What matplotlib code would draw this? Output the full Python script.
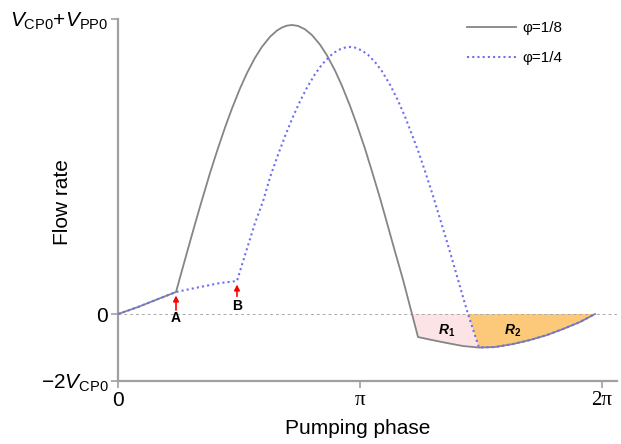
import matplotlib
matplotlib.use("Agg")
import matplotlib.pyplot as plt

plt.rcParams["font.family"] = ["Liberation Sans", "DejaVu Sans"]
plt.rcParams["mathtext.fontset"] = "custom"
plt.rcParams["mathtext.rm"] = "Liberation Sans"
plt.rcParams["mathtext.it"] = "Liberation Sans:italic"
plt.rcParams["mathtext.bf"] = "Liberation Sans:bold"
plt.rcParams["mathtext.bfit"] = "Liberation Sans:bold:italic"

# phase in units of pi, flow normalised so that V_CP0 + V_PP0 = 1
Y_TOP = 1.0
Y_BOTTOM = -0.227  # -2 V_CP0

# shared start (0 -> A)
start_x = [0.0, 0.0826, 0.1653, 0.2397]
start_y = [0.0, 0.0237, 0.0508, 0.0746]

# phi = 1/8 after valve switch at A
p8_x = [0.2562, 0.2769, 0.2975, 0.3182, 0.3388, 0.3802, 0.4091, 0.4421, 0.4711,
        0.5041, 0.5331, 0.5661, 0.5950, 0.6281, 0.6570, 0.6777, 0.6983, 0.7190,
        0.7438, 0.7727, 0.8017, 0.8347, 0.8636, 0.8967, 0.9256, 0.9587, 0.9876,
        1.0207, 1.0496, 1.0826, 1.1116, 1.1446, 1.1777, 1.2149, 1.2397]
p8_y = [0.1237, 0.1847, 0.2451, 0.3051, 0.3637, 0.4780, 0.5519, 0.6319, 0.6969,
        0.7644, 0.8169, 0.8685, 0.9058, 0.9397, 0.9610, 0.9712, 0.9776, 0.9797,
        0.9766, 0.9651, 0.9454, 0.9132, 0.8766, 0.8254, 0.7732, 0.7058, 0.6403,
        0.5603, 0.4834, 0.3932, 0.3088, 0.2115, 0.1166, 0.0, -0.0780]

# phi = 1/4: A -> B, then pumping
p4_x = [0.2975, 0.3595, 0.4215, 0.4917, 0.5248, 0.5455, 0.5661, 0.5992, 0.6281,
        0.6570, 0.6901, 0.7190, 0.7521, 0.7810, 0.8140, 0.8430, 0.8760, 0.8967,
        0.9174, 0.9380, 0.9587, 0.9793, 1.0083, 1.0331, 1.0620, 1.0909, 1.1240,
        1.1529, 1.1860, 1.2149, 1.2397, 1.2686, 1.2975, 1.3264, 1.3554, 1.3802,
        1.4050, 1.4256, 1.4463]
p4_y = [0.0847, 0.0949, 0.1051, 0.1119, 0.2000, 0.2542, 0.3085, 0.3820, 0.4631,
        0.5305, 0.6027, 0.6610, 0.7210, 0.7674, 0.8129, 0.8458, 0.8746, 0.8878,
        0.8973, 0.9031, 0.9051, 0.9031, 0.8932, 0.8786, 0.8542, 0.8227, 0.7773,
        0.7305, 0.6692, 0.6075, 0.5542, 0.4841, 0.4115, 0.3342, 0.2559, 0.1868,
        0.1166, 0.0576, 0.0]
B_IDX = 3

# backflow branch (phi = 1/8 from its corner, shared with phi = 1/4 after the join)
back_x = [1.2975, 1.3595, 1.4256, 1.4917, 1.5579, 1.6322, 1.7025, 1.7727, 1.8388, 1.9091, 1.9711]
back_y = [-0.0881, -0.0983, -0.1085, -0.1136, -0.1119, -0.1017, -0.0881, -0.0712, -0.0508, -0.0271, 0.0]
JOIN = 3  # index in back_x where phi=1/4 meets the branch

GRAY = "#858585"
BLUE = "#6f6ff2"

fig = plt.figure(figsize=(6.21, 4.44), dpi=100)
ax = fig.add_axes([118 / 621, 1 - 381 / 444, 499 / 621, 362 / 444])

# shaded regions R1 and R2
r1_x = [p8_x[-2], p8_x[-1]] + back_x[:JOIN + 1] + [p4_x[-1]]
r1_y = [p8_y[-2], p8_y[-1]] + back_y[:JOIN + 1] + [p4_y[-1]]
ax.fill(r1_x, r1_y, color="#fbe3e6", lw=0, zorder=1)
r2_x = [p4_x[-1]] + back_x[JOIN:]
r2_y = [p4_y[-1]] + back_y[JOIN:]
ax.fill(r2_x, r2_y, color="#fcc97a", lw=0, zorder=1)

ax.axhline(0, color="#aaaaaa", lw=0.7, ls=(0, (3, 3)), zorder=1)

gx = start_x + p8_x + back_x
gy = start_y + p8_y + back_y
ax.plot(gx, gy, color=GRAY, lw=1.3, label="φ=1/8", zorder=3)
bx = start_x + p4_x + back_x[JOIN:]
by = start_y + p4_y + back_y[JOIN:]
ax.plot(bx, by, color=BLUE, lw=1.5, ls=(0, (1, 1.5)), label="φ=1/4", zorder=4)

# switching points A and B
for name, x, y, tail, lab in [("A", start_x[-1], start_y[-1], -13, -19),
                              ("B", p4_x[B_IDX], p4_y[B_IDX], -11, -18)]:
    ax.annotate("", xy=(x, y), xytext=(0, tail), textcoords="offset points",
                arrowprops=dict(arrowstyle="-|>", color="red", lw=1.2,
                                mutation_scale=8, shrinkA=0, shrinkB=2.5))
    ax.annotate(name, xy=(x, y), xytext=(0, lab), textcoords="offset points",
                ha="center", va="center", fontsize=10, fontweight="bold")

ax.text(1.36, -0.058, r"$\mathbfit{R}_{\mathbf{1}}$", ha="center", va="center", fontsize=10)
ax.text(1.63, -0.058, r"$\mathbfit{R}_{\mathbf{2}}$", ha="center", va="center", fontsize=10)

ax.set_xlim(0, 2.062)
ax.set_ylim(Y_BOTTOM, Y_TOP)
for s in ["top", "right"]:
    ax.spines[s].set_visible(False)
for s in ["left", "bottom"]:
    ax.spines[s].set_color("#a0a0a0")
    ax.spines[s].set_linewidth(1.6)

ax.set_xticks([0, 1, 2])
ax.set_xticklabels(["0", "π", "2π"])
for t in ax.get_xticklabels()[1:]:
    t.set_family("Liberation Serif")
ax.set_yticks([Y_BOTTOM, 0, Y_TOP])
ax.set_yticklabels([r"$-2\mathit{V}_{\mathrm{CP0}}$", "0",
                    r"$\mathit{V}_{\mathrm{CP0}}$+$\mathit{V}_{\mathrm{PP0}}$"])
ax.tick_params(axis="both", colors="#a0a0a0", labelcolor="black", labelsize=15,
               length=5, width=1.2, pad=2)

ax.set_xlabel("Pumping phase", fontsize=15, labelpad=7)
ax.xaxis.label.set_x((358 - 118) / 499)
ax.set_ylabel("Flow rate", fontsize=15)
ax.yaxis.set_label_coords(-(118 - 72) / 499, (381 - 202) / 362)

ax.legend(loc="upper left", bbox_to_anchor=(467 / 621, 1 - 21 / 444),
          bbox_transform=fig.transFigure, frameon=False, fontsize=11,
          handlelength=3.2, handletextpad=0.45, labelspacing=1.05,
          borderpad=0, borderaxespad=0)

fig.savefig("out.png", dpi=100)
